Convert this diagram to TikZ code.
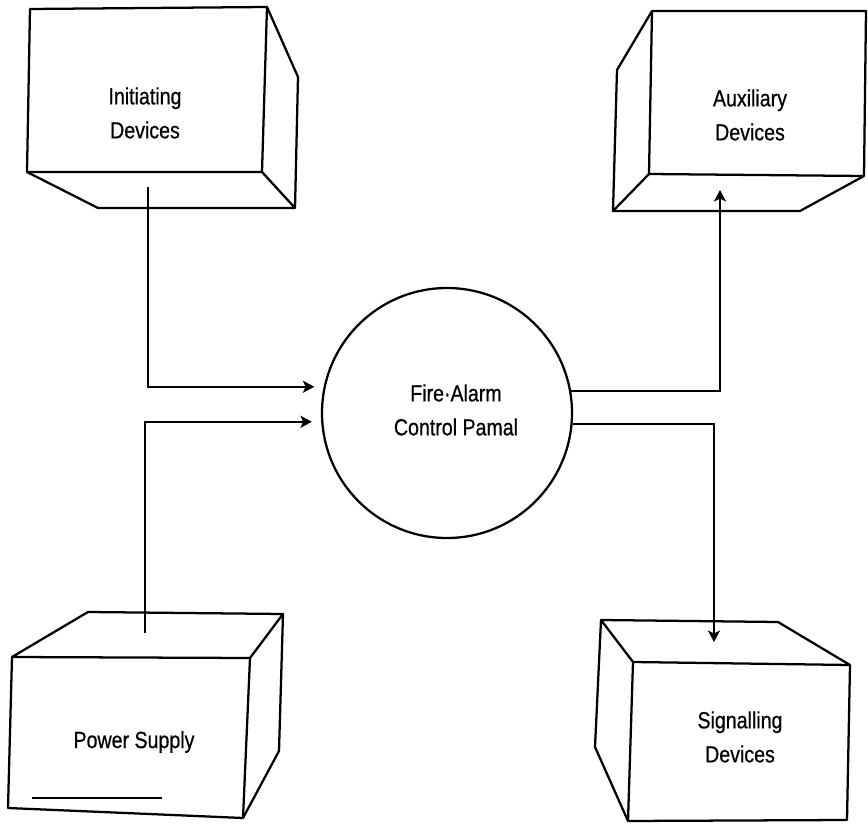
\documentclass[tikz,border=0pt]{standalone}
\usepackage{fontspec}
\setmainfont[FakeStretch=0.84,FakeBold=0.6]{Liberation Sans}
\usetikzlibrary{arrows.meta}

\tikzset{every picture/.style={line width=0.75pt}}
\tikzset{
  cube/.style={line width=1.7pt, line join=round},
  wire/.style={line width=1.7pt, -{Stealth[length=8.5pt,width=9pt,inset=2pt]}},
  lbl/.style={align=center, inner sep=0pt, font=\fontsize{17.5}{25.5}\selectfont}
}

\begin{document}
\begin{tikzpicture}[x=0.75pt,y=0.75pt,yscale=-1,xscale=1]
\useasboundingbox (0,0) rectangle (868,827); %diagram is 868 wide, 827 high

%Shape: Cube [initiating] front face
\draw[cube] (30,9) -- (267,7) -- (262,172) -- (27,172) -- cycle ;
%Shape: Cube [initiating] side and bottom
\draw[cube] (267,7) -- (298,77) -- (295,208) -- (98,208) -- (27,172) ;
\draw[cube] (262,172) -- (295,208) ;

%Shape: Cube [auxiliary] front face
\draw[cube] (652,11) -- (866,11) -- (864,176) -- (649,174) -- cycle ;
%Shape: Cube [auxiliary] side and bottom
\draw[cube] (652,11) -- (617,70) -- (613,211) -- (800,211) -- (864,176) ;
\draw[cube] (649,174) -- (613,211) ;

%Shape: Cube [power] top face
\draw[cube] (88,612) -- (283,614) -- (250,658) -- (12,657) -- cycle ;
%Shape: Cube [power] front and side
\draw[cube] (12,657) -- (8,808) -- (243,818) -- (250,658) ;
\draw[cube] (283,614) -- (279,751) -- (243,818) ;
%Straight Lines [power] under the label
\draw[line width=1.2pt] (32,798) -- (162,798) ;

%Shape: Cube [signalling] top face
\draw[cube] (601,620) -- (778,622) -- (850,665) -- (633,662) -- cycle ;
%Shape: Cube [signalling] front and side
\draw[cube] (633,662) -- (628,821) -- (847,820) -- (850,665) ;
\draw[cube] (601,620) -- (595,747) -- (628,821) ;

%Shape: Circle [control panel]
\node[circle, draw, line width=1.7pt, minimum size=187.5pt, inner sep=0pt] (panel) at (447,413) {} ;

%Labels
\node[lbl] (initiating) at (145,113) {Initiating\\Devices} ;
\node[lbl] (auxiliary) at (750,115) {Auxiliary\\Devices} ;
\node[lbl] (power) at (134,742) {Power Supply} ;
\node[lbl] (signalling) at (740,737) {Signalling\\Devices} ;
\node[lbl] (paneltext) at (456,410) {Fire·Alarm\\Control Pamal} ;

%Connector ends on the cubes
\coordinate (initout) at (148,187) ;
\coordinate (powerout) at (145,633) ;
\coordinate (auxin) at (720,190) ;
\coordinate (sigin) at (714,642) ;

%Straight Lines [connectors]
\draw[wire] (initout) |- ([xshift=-7pt]panel.168) ;
\draw[wire] (powerout) |- ([xshift=-7pt]panel.184) ;
\draw[wire] (panel.10) -| (auxin) ;
\draw[wire] (panel.-5) -| (sigin) ;

\end{tikzpicture}
\end{document}
